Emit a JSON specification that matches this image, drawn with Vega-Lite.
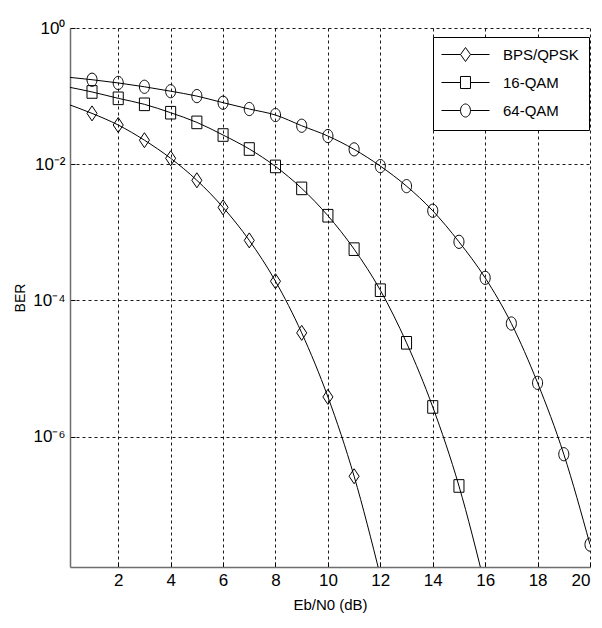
{
  "$schema": "https://vega.github.io/schema/vega-lite/v6.json",
  "width": 520,
  "height": 539,
  "autosize": {"type": "none"},
  "padding": {"left": 70, "top": 28, "right": 12, "bottom": 61},
  "background": "white",
  "config": {
    "view": {"stroke": null},
    "font": "Liberation Sans",
    "axis": {
      "grid": true,
      "gridDash": [3, 3],
      "gridColor": "#000000",
      "gridWidth": 1,
      "gridOpacity": 0.9,
      "domainColor": "#6e6e6e",
      "domainWidth": 1.5,
      "tickColor": "#000000",
      "tickSize": -5,
      "labelFont": "Liberation Sans Narrow, Liberation Sans",
      "labelFontSize": 17,
      "labelColor": "#000000",
      "titleFont": "Liberation Sans",
      "titleFontSize": 15,
      "titleFontWeight": "normal",
      "titleColor": "#000000"
    }
  },
  "datasets": {
    "ber": [
      {"mod": "BPS/QPSK", "snr": 0, "ber": 0.078},
      {"mod": "BPS/QPSK", "snr": 1, "ber": 0.0557},
      {"mod": "BPS/QPSK", "snr": 2, "ber": 0.0376},
      {"mod": "BPS/QPSK", "snr": 3, "ber": 0.0225},
      {"mod": "BPS/QPSK", "snr": 4, "ber": 0.0122},
      {"mod": "BPS/QPSK", "snr": 5, "ber": 0.0058},
      {"mod": "BPS/QPSK", "snr": 6, "ber": 0.00232},
      {"mod": "BPS/QPSK", "snr": 7, "ber": 0.00076},
      {"mod": "BPS/QPSK", "snr": 8, "ber": 0.000191},
      {"mod": "BPS/QPSK", "snr": 9, "ber": 0.0000333},
      {"mod": "BPS/QPSK", "snr": 10, "ber": 0.00000382},
      {"mod": "BPS/QPSK", "snr": 11, "ber": 0.000000261},
      {"mod": "BPS/QPSK", "snr": 12, "ber": 0.000000009},
      {"mod": "16-QAM", "snr": 0, "ber": 0.138},
      {"mod": "16-QAM", "snr": 1, "ber": 0.115},
      {"mod": "16-QAM", "snr": 2, "ber": 0.0927},
      {"mod": "16-QAM", "snr": 3, "ber": 0.0757},
      {"mod": "16-QAM", "snr": 4, "ber": 0.057},
      {"mod": "16-QAM", "snr": 5, "ber": 0.0411},
      {"mod": "16-QAM", "snr": 6, "ber": 0.0268},
      {"mod": "16-QAM", "snr": 7, "ber": 0.0167},
      {"mod": "16-QAM", "snr": 8, "ber": 0.00927},
      {"mod": "16-QAM", "snr": 9, "ber": 0.00441},
      {"mod": "16-QAM", "snr": 10, "ber": 0.00175},
      {"mod": "16-QAM", "snr": 11, "ber": 0.000565},
      {"mod": "16-QAM", "snr": 12, "ber": 0.000141},
      {"mod": "16-QAM", "snr": 13, "ber": 0.0000238},
      {"mod": "16-QAM", "snr": 14, "ber": 0.00000272},
      {"mod": "16-QAM", "snr": 15, "ber": 0.000000188},
      {"mod": "16-QAM", "snr": 16, "ber": 0.0000000063},
      {"mod": "64-QAM", "snr": 0, "ber": 0.191},
      {"mod": "64-QAM", "snr": 1, "ber": 0.174},
      {"mod": "64-QAM", "snr": 2, "ber": 0.156},
      {"mod": "64-QAM", "snr": 3, "ber": 0.137},
      {"mod": "64-QAM", "snr": 4, "ber": 0.118},
      {"mod": "64-QAM", "snr": 5, "ber": 0.1},
      {"mod": "64-QAM", "snr": 6, "ber": 0.08},
      {"mod": "64-QAM", "snr": 7, "ber": 0.0646},
      {"mod": "64-QAM", "snr": 8, "ber": 0.0527},
      {"mod": "64-QAM", "snr": 9, "ber": 0.0367},
      {"mod": "64-QAM", "snr": 10, "ber": 0.0259},
      {"mod": "64-QAM", "snr": 11, "ber": 0.0165},
      {"mod": "64-QAM", "snr": 12, "ber": 0.00938},
      {"mod": "64-QAM", "snr": 13, "ber": 0.00476},
      {"mod": "64-QAM", "snr": 14, "ber": 0.00207},
      {"mod": "64-QAM", "snr": 15, "ber": 0.000724},
      {"mod": "64-QAM", "snr": 16, "ber": 0.000214},
      {"mod": "64-QAM", "snr": 17, "ber": 0.0000457},
      {"mod": "64-QAM", "snr": 18, "ber": 0.00000614},
      {"mod": "64-QAM", "snr": 19, "ber": 0.00000055},
      {"mod": "64-QAM", "snr": 20, "ber": 0.0000000259}
    ]
  },
  "data": {"name": "ber"},
  "encoding": {
    "x": {
      "field": "snr",
      "type": "quantitative",
      "scale": {"domain": [0.16, 20], "nice": false, "zero": false},
      "axis": {
        "values": [2, 4, 6, 8, 10, 12, 14, 16, 18, 20],
        "labelPadding": 10,
        "title": "Eb/N0 (dB)",
        "titlePadding": 9
      }
    },
    "y": {
      "field": "ber",
      "type": "quantitative",
      "scale": {"type": "log", "domain": [1.213e-8, 1], "nice": false},
      "axis": {
        "values": [1, 0.01, 0.0001, 0.000001],
        "labelExpr": "datum.value > 0.5 ? '10⁰' : datum.value > 0.005 ? '10⁻²' : datum.value > 0.00005 ? '10⁻⁴' : '10⁻⁶'",
        "labelPadding": 10,
        "title": "BER",
        "titleFontSize": 14,
        "titlePadding": 5
      }
    }
  },
  "layer": [
    {
      "mark": {"type": "line", "interpolate": "monotone", "clip": true, "color": "#000000", "strokeWidth": 1},
      "encoding": {"detail": {"field": "mod"}}
    },
    {
      "transform": [{"filter": "datum.snr >= 1"}],
      "mark": {"type": "point", "filled": false, "clip": true, "color": "#000000", "strokeWidth": 1, "opacity": 1, "size": 225},
      "encoding": {
        "shape": {
          "field": "mod",
          "type": "nominal",
          "scale": {
            "domain": ["BPS/QPSK", "16-QAM", "64-QAM"],
            "range": [
              "M-0.67,0L0,-1L0.67,0L0,1Z",
              "M-0.67,-0.84H0.67V0.84H-0.67Z",
              "M-0.67,0A0.67,0.88 0 1,1 0.67,0A0.67,0.88 0 1,1 -0.67,0Z"
            ]
          },
          "legend": null
        }
      }
    },
    {
      "transform": [{"filter": "datum.snr > 100"}],
      "mark": {"type": "point", "filled": false, "color": "#000000", "strokeWidth": 1, "opacity": 1, "size": 196},
      "encoding": {
        "shape": {
          "field": "mod",
          "type": "nominal",
          "scale": {
            "domain": ["BPS/QPSK", "16-QAM", "64-QAM"],
            "range": [
              "M-3.43,0H-0.71L0,-1L0.71,0L0,1L-0.71,0M0.71,0H3.43",
              "M-3.43,0H-0.71M-0.71,-0.86H0.71V0.86H-0.71ZM0.71,0H3.43",
              "M-3.43,0H-0.71A0.71,0.93 0 1,1 0.71,0A0.71,0.93 0 1,1 -0.71,0M0.71,0H3.43"
            ]
          },
          "legend": {
            "title": null,
            "orient": "none",
            "legendX": 363,
            "legendY": 9,
            "strokeColor": "#000000",
            "fillColor": "white",
            "padding": 10,
            "labelFont": "Liberation Sans",
            "labelFontSize": 15,
            "labelColor": "#000000",
            "rowPadding": 10,
            "symbolSize": 196,
            "symbolStrokeColor": "#000000",
            "symbolFillColor": "transparent",
            "symbolStrokeWidth": 1,
            "symbolOpacity": 1,
            "symbolOffset": 15,
            "labelOffset": 30,
            "encode": {"legend": {"update": {"strokeWidth": {"value": 1.5}}}}
          }
        }
      }
    }
  ],
  "resolve": {"scale": {"shape": "independent"}}
}
